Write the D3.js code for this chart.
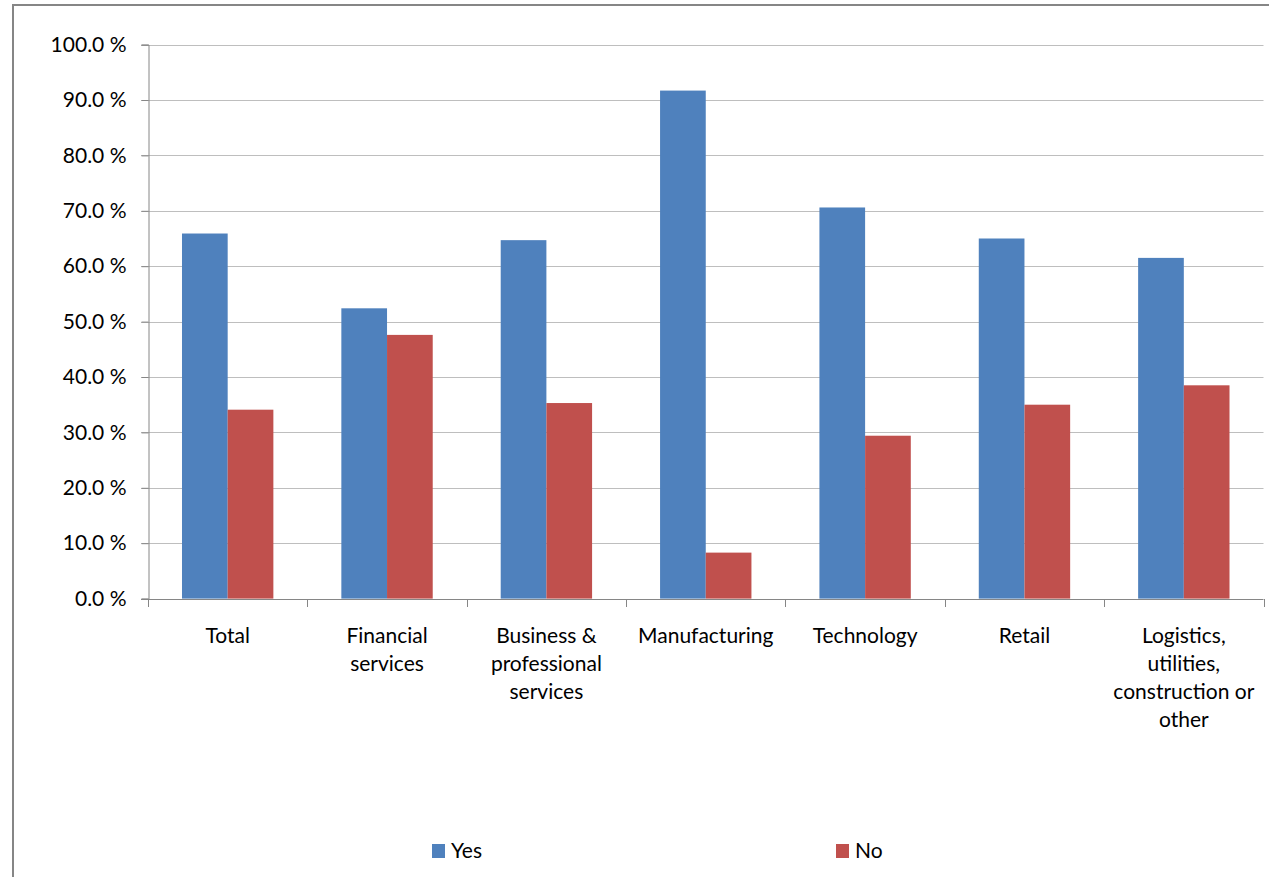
<!DOCTYPE html>
<html>
<head>
<meta charset="utf-8">
<script src="https://cdn.jsdelivr.net/npm/d3@7"></script>
<style>
  html, body { margin: 0; padding: 0; background: #fff; }
  svg { display: block; font-family: Lato, "Open Sans", sans-serif; }
</style>
</head>
<body>
<svg id="chart" width="1269" height="877"></svg>
<script>
// Survey answers by sector, share of respondents (%)
const categories = [
  "Total",
  "Financial\nservices",
  "Business &\nprofessional\nservices",
  "Manufacturing",
  "Technology",
  "Retail",
  "Logistics,\nutilities,\nconstruction or\nother"
];
const series = ["Yes", "No"];
const yesValues = [65.9, 52.4, 64.7, 91.7, 70.6, 65.0, 61.5];
const noValues  = [34.1, 47.6, 35.3, 8.3, 29.4, 35.0, 38.5];
const yTicks = [0, 10, 20, 30, 40, 50, 60, 70, 80, 90, 100];
const colors = { Yes: "#4F81BD", No: "#C0504D" };

const svg = d3.select("#chart");
const fontSize = 21;

// outer chart frame
svg.append("rect")
  .attr("x", 13).attr("y", 5)
  .attr("width", 1300).attr("height", 900)
  .attr("fill", "none")
  .attr("stroke", "#868686")
  .attr("stroke-width", 2);

const plot = { left: 148, right: 1263.5, top: 44.6, bottom: 598.6 };

const y = d3.scaleLinear().domain([0, 100]).range([plot.bottom, plot.top]);
const x0 = d3.scaleBand().domain(categories).range([plot.left, plot.right]).padding(0);
const x1 = d3.scaleBand().domain(series).range([0, x0.bandwidth()])
  .paddingInner(0).paddingOuter(0.744);

// gridlines and y tick marks
svg.append("g")
  .selectAll("line")
  .data(yTicks.filter(t => t > 0))
  .join("line")
  .attr("x1", plot.left - 7).attr("x2", plot.right)
  .attr("y1", d => Math.round(y(d)) + 0.5).attr("y2", d => Math.round(y(d)) + 0.5)
  .attr("stroke", "#BEBEBE").attr("stroke-width", 1);

// y axis
const yAxis = d3.axisLeft(y)
  .tickValues(yTicks)
  .tickSize(7)
  .tickPadding(15)
  .tickFormat(d => d3.format(".1f")(d) + " %");
const gy = svg.append("g")
  .attr("transform", `translate(${plot.left + 0.5},0)`)
  .call(yAxis);
gy.select(".domain").attr("stroke", "#868686");
gy.selectAll(".tick line").attr("stroke", "#868686");
gy.selectAll(".tick text")
  .attr("font-size", fontSize)
  .attr("font-family", "Lato, sans-serif")
  .attr("fill", "#000");

// bars
const rows = categories.map((c, i) => ({ cat: c, Yes: yesValues[i], No: noValues[i] }));
const groups = svg.append("g")
  .selectAll("g")
  .data(rows)
  .join("g")
  .attr("transform", d => `translate(${x0(d.cat)},0)`);
groups.selectAll("rect")
  .data(d => series.map(s => ({ key: s, value: d[s] })))
  .join("rect")
  .attr("x", d => x1(d.key))
  .attr("width", x1.bandwidth())
  .attr("y", d => y(d.value))
  .attr("height", d => y(0) - y(d.value))
  .attr("fill", d => colors[d.key]);

// x axis line with category boundary ticks
const gx = svg.append("g");
gx.append("line")
  .attr("x1", plot.left - 7).attr("x2", plot.right)
  .attr("y1", Math.round(plot.bottom) + 0.5).attr("y2", Math.round(plot.bottom) + 0.5)
  .attr("stroke", "#868686");
const boundaries = categories.map(c => x0(c)).concat([plot.right]);
gx.selectAll("line.tk")
  .data(boundaries)
  .join("line")
  .attr("class", "tk")
  .attr("x1", d => Math.round(d) + 0.5).attr("x2", d => Math.round(d) + 0.5)
  .attr("y1", Math.round(plot.bottom)).attr("y2", Math.round(plot.bottom) + 8)
  .attr("stroke", "#868686");

// category labels
const labels = svg.append("g")
  .selectAll("text")
  .data(categories)
  .join("text")
  .attr("x", d => x0(d) + x0.bandwidth() / 2)
  .attr("y", 643)
  .attr("text-anchor", "middle")
  .attr("font-size", fontSize)
  .attr("fill", "#000");
labels.selectAll("tspan")
  .data(d => d.split("\n").map(line => ({ line, parent: d })))
  .join("tspan")
  .attr("x", d => x0(d.parent) + x0.bandwidth() / 2)
  .attr("dy", (d, i) => i === 0 ? 0 : 28)
  .text(d => d.line);

// legend
const legendX = { Yes: 432, No: 836 };
const legend = svg.append("g")
  .selectAll("g")
  .data(series)
  .join("g")
  .attr("transform", d => `translate(${legendX[d]},844)`);
legend.append("rect")
  .attr("width", 13).attr("height", 14)
  .attr("fill", d => colors[d]);
legend.append("text")
  .attr("x", 19).attr("y", 14)
  .attr("font-size", fontSize)
  .attr("fill", "#000")
  .text(d => d);
</script>
</body>
</html>
